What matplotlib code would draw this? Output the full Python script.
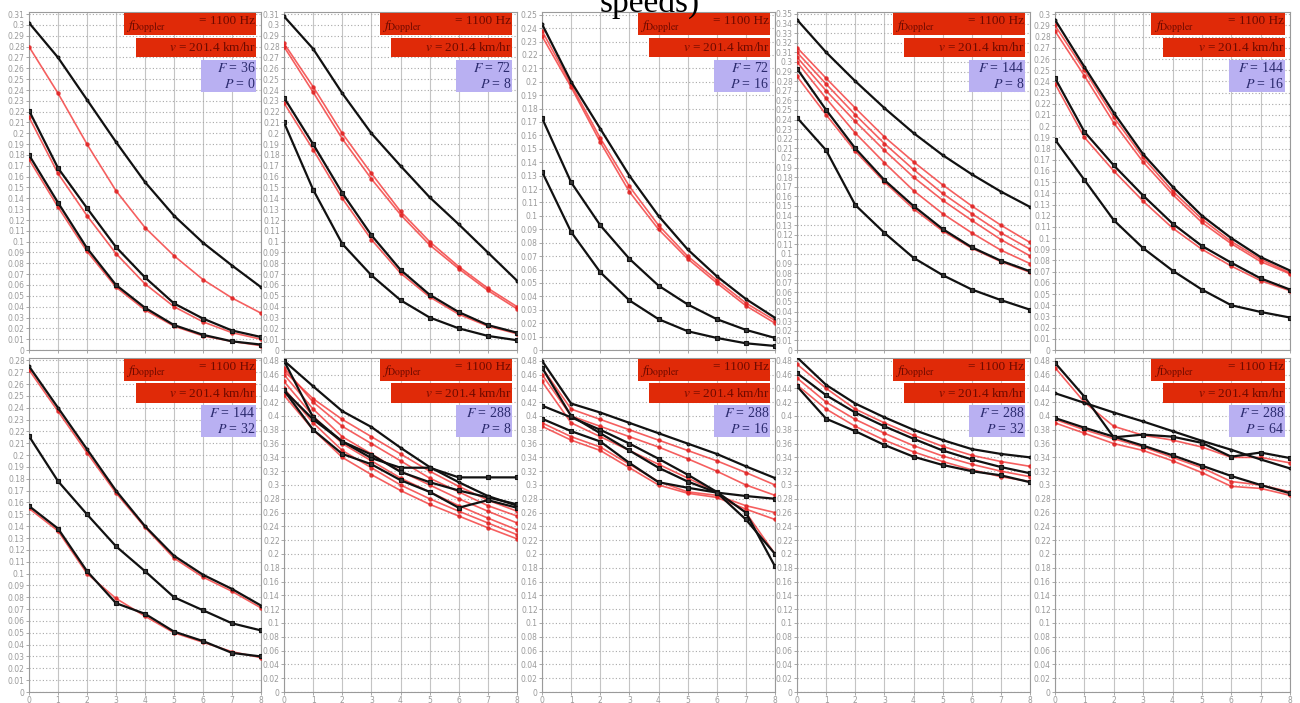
import matplotlib
matplotlib.use('Agg')
import matplotlib.pyplot as plt
from matplotlib.patches import Rectangle
from matplotlib.ticker import MultipleLocator, FuncFormatter

plt.rcParams['mathtext.fontset'] = 'stix'

x_vals = [0, 1, 2, 3, 4, 5, 6, 7, 8]

panel_F = [36, 72, 72, 144, 144, 144, 288, 288, 288, 288]
panel_P = [0, 8, 16, 8, 16, 32, 8, 16, 32, 64]
panel_ymax = [0.31, 0.31, 0.25, 0.35, 0.30, 0.28, 0.48, 0.48, 0.48, 0.48]
panel_ystep = [0.01, 0.01, 0.01, 0.01, 0.01, 0.01, 0.02, 0.02, 0.02, 0.02]

# ---- panel 1 (F=36, P=0)
p1_black = [[0.302, 0.270, 0.231, 0.192, 0.155, 0.124, 0.099, 0.078, 0.058],
            [0.221, 0.168, 0.131, 0.095, 0.067, 0.043, 0.029, 0.018, 0.012],
            [0.180, 0.136, 0.094, 0.060, 0.039, 0.023, 0.014, 0.008, 0.005]]
p1_red = [[0.280, 0.237, 0.190, 0.147, 0.113, 0.087, 0.065, 0.048, 0.034],
          [0.215, 0.163, 0.124, 0.089, 0.061, 0.040, 0.026, 0.016, 0.010],
          [0.176, 0.132, 0.091, 0.058, 0.037, 0.022, 0.013, 0.008, 0.004]]
# ---- panel 2 (F=72, P=8)
p2_black = [[0.308, 0.278, 0.237, 0.200, 0.170, 0.141, 0.116, 0.090, 0.064],
            [0.233, 0.190, 0.145, 0.106, 0.074, 0.051, 0.035, 0.023, 0.016],
            [0.210, 0.148, 0.098, 0.069, 0.046, 0.030, 0.020, 0.013, 0.009]]
p2_red = [[0.283, 0.243, 0.200, 0.163, 0.128, 0.100, 0.077, 0.057, 0.040],
          [0.280, 0.238, 0.195, 0.158, 0.125, 0.097, 0.075, 0.055, 0.038],
          [0.228, 0.185, 0.140, 0.102, 0.071, 0.049, 0.033, 0.022, 0.015]]
# ---- panel 3 (F=72, P=16)
p3_black = [[0.243, 0.200, 0.165, 0.130, 0.100, 0.075, 0.055, 0.038, 0.024],
            [0.173, 0.125, 0.093, 0.068, 0.048, 0.034, 0.023, 0.015, 0.009],
            [0.133, 0.088, 0.058, 0.037, 0.023, 0.014, 0.009, 0.005, 0.003]]
p3_red = [[0.234, 0.196, 0.155, 0.118, 0.090, 0.068, 0.050, 0.033, 0.020],
          [0.238, 0.198, 0.158, 0.122, 0.093, 0.070, 0.052, 0.035, 0.022]]
# ---- panel 4 (F=144, P=8)
p4_black = [[0.344, 0.310, 0.280, 0.252, 0.226, 0.203, 0.183, 0.165, 0.149],
            [0.293, 0.250, 0.210, 0.177, 0.150, 0.126, 0.107, 0.093, 0.082],
            [0.242, 0.208, 0.151, 0.122, 0.096, 0.078, 0.063, 0.052, 0.042]]
p4_red = [[0.315, 0.283, 0.252, 0.222, 0.196, 0.172, 0.150, 0.130, 0.112],
          [0.310, 0.277, 0.245, 0.215, 0.188, 0.163, 0.142, 0.122, 0.105],
          [0.305, 0.270, 0.238, 0.208, 0.180, 0.156, 0.135, 0.115, 0.098],
          [0.300, 0.262, 0.226, 0.195, 0.166, 0.142, 0.122, 0.104, 0.090],
          [0.285, 0.245, 0.207, 0.175, 0.147, 0.124, 0.106, 0.092, 0.081]]
# ---- panel 5 (F=144, P=16)
p5_black = [[0.295, 0.253, 0.212, 0.175, 0.146, 0.120, 0.100, 0.083, 0.071],
            [0.243, 0.195, 0.165, 0.138, 0.113, 0.093, 0.078, 0.064, 0.054],
            [0.188, 0.152, 0.116, 0.091, 0.071, 0.054, 0.040, 0.034, 0.029]]
p5_red = [[0.290, 0.250, 0.208, 0.172, 0.142, 0.117, 0.097, 0.081, 0.069],
          [0.285, 0.245, 0.203, 0.168, 0.139, 0.114, 0.095, 0.079, 0.068],
          [0.238, 0.190, 0.160, 0.133, 0.109, 0.090, 0.075, 0.062, 0.053]]
# ---- panel 6 (F=144, P=32)
p6_black = [[0.275, 0.240, 0.205, 0.170, 0.140, 0.115, 0.099, 0.087, 0.073],
            [0.216, 0.178, 0.150, 0.123, 0.102, 0.080, 0.069, 0.058, 0.052],
            [0.157, 0.138, 0.102, 0.075, 0.066, 0.051, 0.043, 0.033, 0.030]]
p6_red = [[0.272, 0.237, 0.202, 0.168, 0.139, 0.113, 0.097, 0.085, 0.071],
          [0.155, 0.136, 0.100, 0.079, 0.064, 0.050, 0.042, 0.034, 0.029]]
# ---- panel 7 (F=288, P=8)
p7_black = [[0.480, 0.443, 0.407, 0.384, 0.354, 0.326, 0.304, 0.284, 0.270],
            [0.480, 0.398, 0.363, 0.339, 0.325, 0.325, 0.311, 0.311, 0.311],
            [0.437, 0.395, 0.363, 0.344, 0.319, 0.304, 0.292, 0.282, 0.272],
            [0.437, 0.380, 0.345, 0.330, 0.307, 0.290, 0.267, 0.278, 0.267]]
p7_red = [[0.470, 0.420, 0.385, 0.360, 0.335, 0.310, 0.290, 0.270, 0.255],
          [0.460, 0.410, 0.370, 0.345, 0.320, 0.300, 0.280, 0.262, 0.245],
          [0.450, 0.400, 0.360, 0.335, 0.310, 0.290, 0.270, 0.252, 0.235],
          [0.440, 0.390, 0.350, 0.325, 0.300, 0.280, 0.262, 0.245, 0.228],
          [0.430, 0.380, 0.340, 0.315, 0.292, 0.272, 0.255, 0.238, 0.222],
          [0.465, 0.425, 0.395, 0.370, 0.345, 0.320, 0.298, 0.278, 0.262]]
# ---- panel 8 (F=288, P=16)
p8_black = [[0.480, 0.418, 0.405, 0.390, 0.375, 0.360, 0.345, 0.327, 0.310],
            [0.415, 0.398, 0.380, 0.360, 0.338, 0.315, 0.290, 0.260, 0.182],
            [0.396, 0.378, 0.363, 0.332, 0.304, 0.296, 0.289, 0.284, 0.280],
            [0.470, 0.400, 0.375, 0.350, 0.325, 0.305, 0.289, 0.250, 0.200]]
p8_red = [[0.470, 0.410, 0.395, 0.380, 0.365, 0.350, 0.335, 0.318, 0.300],
          [0.460, 0.400, 0.385, 0.370, 0.355, 0.338, 0.320, 0.300, 0.285],
          [0.450, 0.390, 0.370, 0.350, 0.330, 0.310, 0.290, 0.260, 0.200],
          [0.390, 0.370, 0.355, 0.330, 0.305, 0.290, 0.285, 0.270, 0.260],
          [0.385, 0.365, 0.350, 0.325, 0.300, 0.288, 0.282, 0.265, 0.250]]
# ---- panel 9 (F=288, P=32)
p9_black = [[0.485, 0.445, 0.418, 0.398, 0.380, 0.365, 0.352, 0.345, 0.340],
            [0.462, 0.430, 0.405, 0.385, 0.367, 0.350, 0.337, 0.326, 0.317],
            [0.443, 0.396, 0.378, 0.358, 0.341, 0.329, 0.320, 0.314, 0.304]]
p9_red = [[0.475, 0.440, 0.410, 0.390, 0.372, 0.356, 0.343, 0.334, 0.327],
          [0.455, 0.420, 0.395, 0.375, 0.357, 0.342, 0.330, 0.320, 0.312],
          [0.445, 0.410, 0.385, 0.365, 0.348, 0.334, 0.322, 0.312, 0.305]]
# ---- panel 10 (F=288, P=64)
p10_black = [[0.433, 0.419, 0.405, 0.392, 0.378, 0.364, 0.351, 0.337, 0.324],
             [0.477, 0.428, 0.369, 0.373, 0.370, 0.361, 0.341, 0.347, 0.339],
             [0.397, 0.383, 0.370, 0.357, 0.343, 0.328, 0.313, 0.300, 0.288]]
p10_red = [[0.470, 0.420, 0.385, 0.372, 0.365, 0.355, 0.340, 0.340, 0.332],
           [0.395, 0.380, 0.367, 0.355, 0.340, 0.325, 0.305, 0.300, 0.290],
           [0.390, 0.375, 0.360, 0.350, 0.335, 0.318, 0.298, 0.295, 0.285]]

blacks = [p1_black, p2_black, p3_black, p4_black, p5_black,
          p6_black, p7_black, p8_black, p9_black, p10_black]
reds = [p1_red, p2_red, p3_red, p4_red, p5_red,
        p6_red, p7_red, p8_red, p9_red, p10_red]

W, H = 1300, 703
fig = plt.figure(figsize=(W / 100, H / 100), dpi=100)

col_l = [29, 284, 542, 797, 1055]
col_r = [261, 517, 775, 1030, 1290]
row_t = [12, 358]
row_b = [350, 692]

fig.text(0.5, 1 - 12 / H, 'speeds)', ha='center', va='baseline',
         fontsize=24, family='Liberation Serif', zorder=0)

red_box = '#e02a08'
purple_box = '#b9b0f2'
red_txt = '#6e0a00'


def fmt(v, p):
    if abs(v) < 1e-9:
        return '0'
    return ('%.2f' % v).rstrip('0').rstrip('.')


for i in range(10):
    r, c = divmod(i, 5)
    ax = fig.add_axes([col_l[c] / W, 1 - row_b[r] / H,
                       (col_r[c] - col_l[c]) / W, (row_b[r] - row_t[r]) / H])
    ymax = panel_ymax[i]
    step = panel_ystep[i]
    ax.set_xlim(0, 8)
    ax.set_ylim(0, ymax + step * 0.2)
    ax.xaxis.set_major_locator(MultipleLocator(1))
    ax.yaxis.set_major_locator(MultipleLocator(step))
    ax.yaxis.set_major_formatter(FuncFormatter(fmt))
    ax.tick_params(axis='both', labelsize=5.5, colors='#9a9a9a', length=2, pad=1, width=0.6)
    if r == 0:
        ax.tick_params(axis='x', labelbottom=False)
    ax.grid(axis='x', color='#c4c4c4', lw=0.8, ls='-')
    ax.grid(axis='y', color='#a8a8a8', lw=0.8, ls=(0, (1, 2)))
    ax.set_axisbelow(True)
    for s in ax.spines.values():
        s.set_color('#9a9a9a')
        s.set_linewidth(0.8)

    for ys in reds[i]:
        ax.plot(x_vals, ys, color='#f22a2a', lw=1.2, alpha=0.75,
                marker='o', ms=2.3, mfc='#e02020', mec='#e02020', zorder=3)
    for j, ys in enumerate(blacks[i]):
        mk = '.' if j == 0 else 's'
        ms = 4 if j == 0 else 3.5
        ax.plot(x_vals, ys, color='#111111', lw=1.6, marker=mk, ms=ms,
                mfc='#333333', mec='#111111', mew=0.8, zorder=4)

    # annotation boxes
    ax.add_patch(Rectangle((0.41, 0.932), 0.57, 0.066, transform=ax.transAxes,
                           facecolor=red_box, edgecolor='none', zorder=6, clip_on=False))
    ax.text(0.42, 0.958, r'$f_{\mathrm{Doppler}}$', transform=ax.transAxes, ha='left',
            va='center', fontsize=10, color=red_txt, zorder=7)
    ax.text(0.975, 0.972, '= 1100 Hz', transform=ax.transAxes, ha='right',
            va='center', fontsize=9.5, color=red_txt, family='Liberation Serif', zorder=7)
    ax.add_patch(Rectangle((0.46, 0.866), 0.52, 0.058, transform=ax.transAxes,
                           facecolor=red_box, edgecolor='none', zorder=6, clip_on=False))
    ax.text(0.975, 0.895, r'$v$ = 201.4 km/hr', transform=ax.transAxes, ha='right',
            va='center', fontsize=9.5, color=red_txt, family='Liberation Serif', zorder=7)
    ax.add_patch(Rectangle((0.74, 0.762), 0.24, 0.097, transform=ax.transAxes,
                           facecolor=purple_box, edgecolor='none', zorder=6, clip_on=False))
    ax.text(0.975, 0.835, r'$F$ = %d' % panel_F[i], transform=ax.transAxes, ha='right',
            va='center', fontsize=10, color='#2b2a6e', family='Liberation Serif', zorder=7)
    ax.text(0.975, 0.787, r'$P$ = %d' % panel_P[i], transform=ax.transAxes, ha='right',
            va='center', fontsize=10, color='#2b2a6e', family='Liberation Serif', zorder=7)

fig.savefig('out.png', dpi=100)
